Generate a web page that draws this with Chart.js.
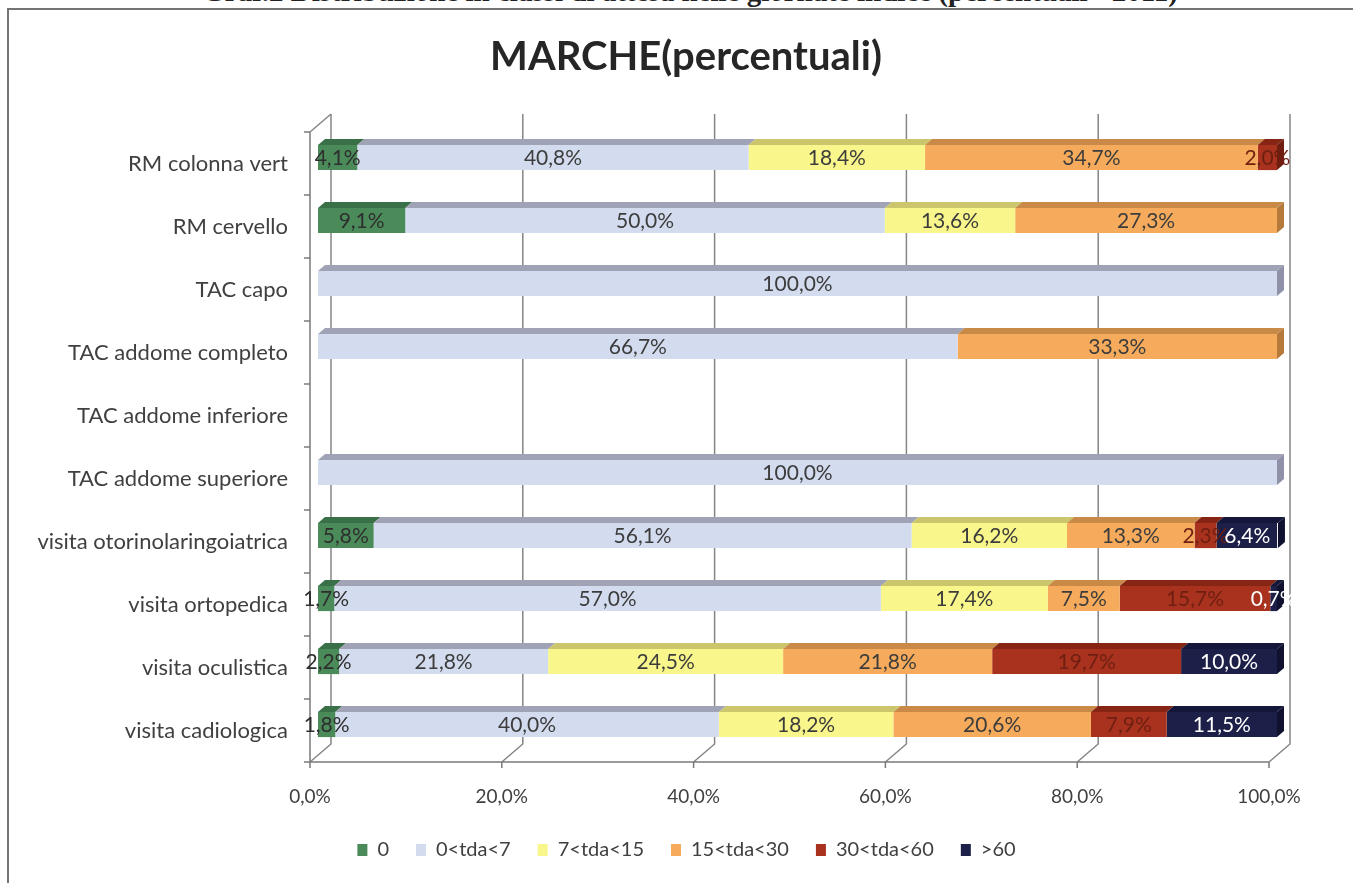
<!DOCTYPE html>
<html><head><meta charset="utf-8">
<script src="https://cdn.jsdelivr.net/npm/chart.js@4.4.0/dist/chart.umd.min.js"></script>
<style>
html,body{margin:0;padding:0;background:#fff;overflow:hidden;}
#wrap{position:relative;width:1353px;height:883px;overflow:hidden;}
#frame{position:absolute;left:7px;top:8px;width:1400px;height:900px;border-left:2px solid #747474;border-top:2px solid #747474;}
#cap{position:absolute;left:0;width:1380px;top:-25px;text-align:center;font:bold 29px "Liberation Serif";color:#222;white-space:nowrap;}
canvas{position:absolute;left:0;top:0;}
</style></head><body>
<div id="wrap">
<div id="cap">Graf.2 Distribuzione in classi di attesa nelle giornate indice (percentuali - 2011)</div>
<div id="frame"></div>
<canvas id="c" width="1353" height="883"></canvas>
</div>
<script>
const chartTitle = 'MARCHE(percentuali)';
const categories = ['RM colonna vert','RM cervello','TAC capo','TAC addome completo','TAC addome inferiore','TAC addome superiore','visita otorinolaringoiatrica','visita ortopedica','visita oculistica','visita cadiologica'];
const seriesNames = ['0','0<tda<7','7<tda<15','15<tda<30','30<tda<60','>60'];
const s0 = [4.1, 9.1, 0, 0, 0, 0, 5.8, 1.7, 2.2, 1.8];
const s1 = [40.8, 50.0, 100, 66.7, 0, 100, 56.1, 57.0, 21.8, 40.0];
const s2 = [18.4, 13.6, 0, 0, 0, 0, 16.2, 17.4, 24.5, 18.2];
const s3 = [34.7, 27.3, 0, 33.3, 0, 0, 13.3, 7.5, 21.8, 20.6];
const s4 = [2.0, 0, 0, 0, 0, 0, 2.3, 15.7, 19.7, 7.9];
const s5 = [0, 0, 0, 0, 0, 0, 6.4, 0.7, 10.0, 11.5];
const seriesValues = [s0, s1, s2, s3, s4, s5];
const xTickLabels = ['0,0%','20,0%','40,0%','60,0%','80,0%','100,0%'];

const frontColors = ['#4b8b5a','#d3dcef','#f9f78b','#f5ab5b','#a8321d','#1c1f47'];
const topColors   = ['#3a7048','#a0a2b6','#cbc66c','#c98a48','#862513','#14163a'];
const sideColors  = ['#2f5e3b','#8e91a8','#b5af58','#b5793c','#701e10','#0f112e'];
const labelColors = ['#2e2e2e','#3c3c3c','#3c3c3c','#3c3c3c','#6e1f12','#ffffff'];
const FONT = 'Lato, "Open Sans", sans-serif';

const titlePlugin = {
  id: 'titlePlugin',
  afterDraw(chart) {
    const ctx = chart.ctx;
    ctx.save();
    ctx.font = 'bold 40px ' + FONT;
    ctx.fillStyle = '#262626';
    ctx.textAlign = 'center';
    ctx.textBaseline = 'middle';
    ctx.fillText(chartTitle, 686, 57);
    ctx.restore();
  }
};

const legendShift = {
  id: 'legendShift',
  afterLayout(chart) {
    const l = chart.legend;
    if (l) { l.left += 48; l.right += 48; }
  }
};

const frame3d = {
  id: 'frame3d',
  beforeDatasetsDraw(chart) {
    const {ctx, chartArea: a, scales: {x, y}} = chart;
    const bx = 13, by = -12, fx = -8, fy = 6;
    ctx.save();
    ctx.strokeStyle = '#858585';
    ctx.lineWidth = 1.5;
    x.ticks.forEach(t => {
      const px = x.getPixelForValue(t.value);
      ctx.beginPath();
      ctx.moveTo(px + bx, a.top + by);
      ctx.lineTo(px + bx, a.bottom + by);
      ctx.lineTo(px + fx, a.bottom + fy);
      ctx.stroke();
    });
    ctx.beginPath();
    ctx.moveTo(a.left + fx, a.top + fy);
    ctx.lineTo(a.left + bx, a.top + by);
    ctx.stroke();
    ctx.strokeStyle = '#7a7a7a';
    ctx.beginPath();
    ctx.moveTo(a.left + fx, a.top + fy);
    ctx.lineTo(a.left + fx, a.bottom + fy);
    ctx.lineTo(a.right + fx, a.bottom + fy);
    ctx.stroke();
    x.ticks.forEach(t => {
      const px = x.getPixelForValue(t.value) + fx;
      ctx.beginPath(); ctx.moveTo(px, a.bottom + fy); ctx.lineTo(px, a.bottom + fy + 6); ctx.stroke();
    });
    for (let i = 0; i <= categories.length; i++) {
      const py = y.getPixelForValue(i - 0.5) + fy;
      ctx.beginPath(); ctx.moveTo(a.left + fx, py); ctx.lineTo(a.left + fx - 6, py); ctx.stroke();
    }
    ctx.restore();
  }
};

const bars3d = {
  id: 'bars3d',
  afterDatasetsDraw(chart) {
    const ctx = chart.ctx, dx = 7, dy = 6;
    const last = {};
    chart.data.datasets.forEach((ds, di) => ds.data.forEach((v, i) => { if (v > 0) last[i] = di; }));
    ctx.save();
    chart.data.datasets.forEach((ds, di) => {
      const meta = chart.getDatasetMeta(di);
      meta.data.forEach((el, i) => {
        if (!(ds.data[i] > 0)) return;
        const x0 = Math.min(el.base, el.x), x1 = Math.max(el.base, el.x);
        const top = el.y - el.height / 2, bot = el.y + el.height / 2;
        ctx.fillStyle = topColors[di];
        ctx.beginPath();
        ctx.moveTo(x0, top); ctx.lineTo(x1, top); ctx.lineTo(x1 + dx, top - dy); ctx.lineTo(x0 + dx, top - dy);
        ctx.closePath(); ctx.fill();
        if (last[i] === di) {
          ctx.fillStyle = sideColors[di];
          ctx.beginPath();
          ctx.moveTo(x1, top); ctx.lineTo(x1 + dx, top - dy); ctx.lineTo(x1 + dx, bot - dy); ctx.lineTo(x1, bot);
          ctx.closePath(); ctx.fill();
        }
      });
    });
    ctx.restore();
  }
};

const valueLabels = {
  id: 'valueLabels',
  afterDatasetsDraw(chart) {
    const ctx = chart.ctx;
    ctx.save();
    ctx.font = '21px ' + FONT;
    ctx.textAlign = 'center';
    ctx.textBaseline = 'middle';
    chart.data.datasets.forEach((ds, di) => {
      const meta = chart.getDatasetMeta(di);
      meta.data.forEach((el, i) => {
        const v = ds.data[i];
        if (!(v > 0)) return;
        ctx.fillStyle = labelColors[di];
        ctx.fillText(v.toFixed(1).replace('.', ',') + '%', (el.x + el.base) / 2, el.y + 1);
      });
    });
    ctx.restore();
  }
};

new Chart(document.getElementById('c'), {
  type: 'bar',
  data: {
    labels: categories,
    datasets: seriesNames.map((n, i) => ({
      label: n,
      data: seriesValues[i],
      backgroundColor: frontColors[i],
      borderWidth: 0,
      barPercentage: 0.4,
      categoryPercentage: 1.0
    }))
  },
  options: {
    indexAxis: 'y',
    responsive: false,
    devicePixelRatio: 1,
    animation: false,
    layout: { padding: { left: 0, right: 76, top: 126, bottom: 13 } },
    scales: {
      x: {
        stacked: true, min: 0, max: 100,
        grid: { display: false, drawTicks: false }, border: { display: false },
        ticks: { stepSize: 20, color: '#404040', font: { size: 19, family: FONT }, padding: 29, labelOffset: -8,
                 callback: (v, i) => xTickLabels[i] },
        afterFit: s => { s.height = 57; }
      },
      y: {
        stacked: true,
        grid: { display: false, drawTicks: false }, border: { display: false },
        ticks: { color: '#404040', font: { size: 22, family: FONT }, padding: 30, labelOffset: 6 },
        afterFit: s => { s.width = 318; }
      }
    },
    plugins: {
      title: { display: false },
      legend: { position: 'bottom',
                labels: { boxWidth: 10, boxHeight: 12, padding: 27, color: '#404040', font: { size: 20, family: FONT } } },
      tooltip: { enabled: false }
    }
  },
  plugins: [legendShift, frame3d, bars3d, valueLabels, titlePlugin]
});
</script>
</body></html>
